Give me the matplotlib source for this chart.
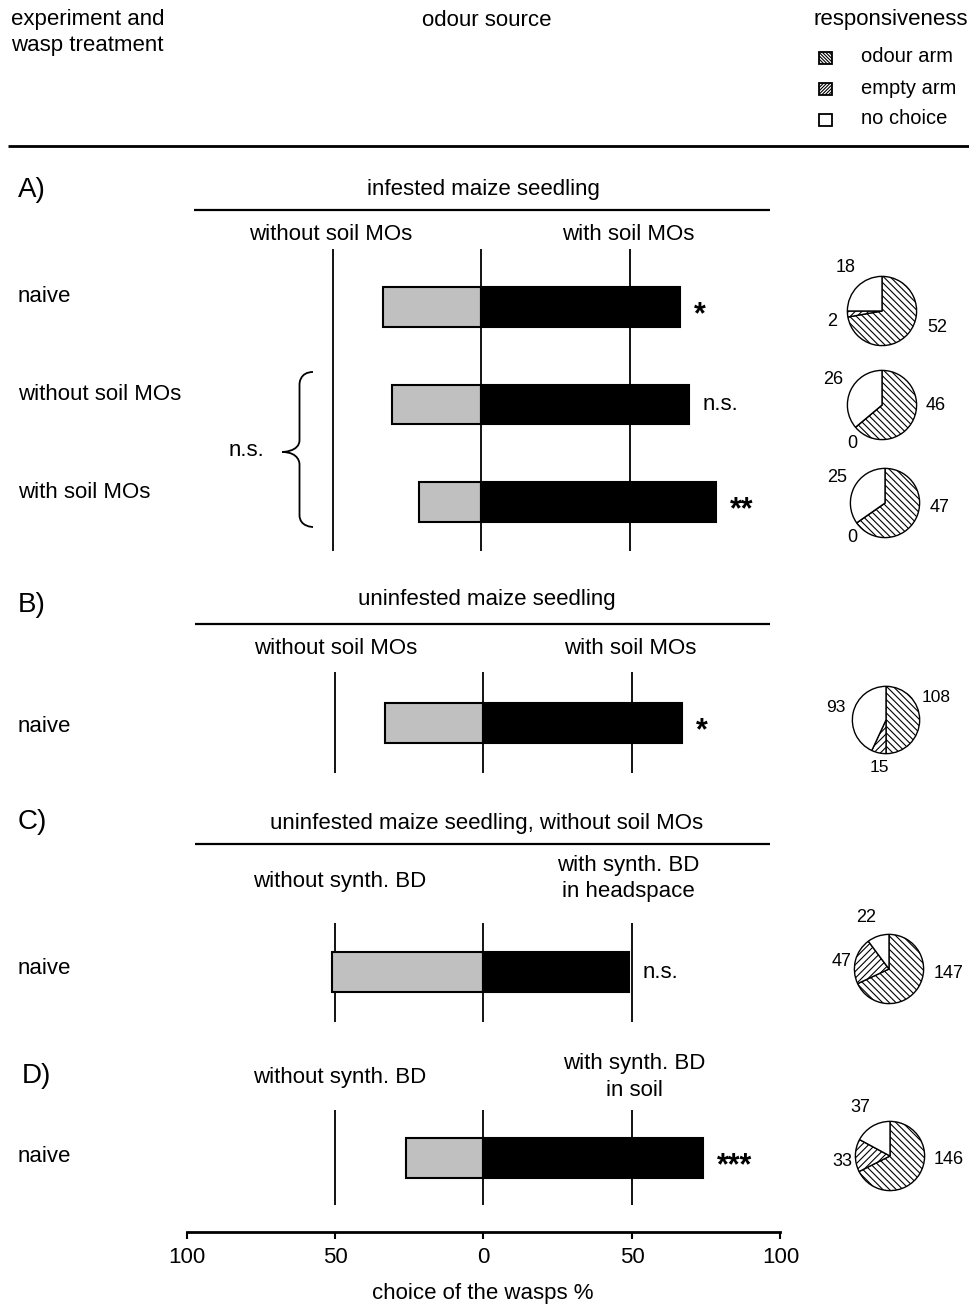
import matplotlib
matplotlib.use('Agg')
import matplotlib.pyplot as plt
from matplotlib.patches import Rectangle, PathPatch
from matplotlib.path import Path

plt.rcParams['font.family'] = ['Liberation Sans', 'DejaVu Sans']
plt.rcParams['hatch.linewidth'] = 0.8

# ---- data ----
a_rows = ['naive', 'without soil MOs', 'with soil MOs']
a_without = [33, 30, 21]     # % choosing odour without soil MOs
a_with = [67, 70, 79]        # % choosing odour with soil MOs
a_sig = ['*', 'n.s.', '**']
a_odour = [52, 46, 47]
a_empty = [2, 0, 0]
a_none = [18, 26, 25]

b_without = [33]
b_with = [67]
b_sig = ['*']
b_odour = [108]
b_empty = [15]
b_none = [93]

c_without = [51]
c_with = [49]
c_sig = ['n.s.']
c_odour = [147]
c_empty = [47]
c_none = [22]

d_without = [26]
d_with = [74]
d_sig = ['***']
d_odour = [146]
d_empty = [33]
d_none = [37]

ticks = [-100, -50, 0, 50, 100]
tick_labels = ['100', '50', '0', '50', '100']

W, H = 970, 1314
fig = plt.figure(figsize=(W / 100, H / 100), dpi=100)

# overlay in pixel coordinates for text and rules
bg = fig.add_axes([0, 0, 1, 1])
bg.set_xlim(0, W)
bg.set_ylim(H, 0)
bg.axis('off')

FS = 16
X_LEFT, X_RIGHT = 186.5, 780.5   # pixel position of -100 and +100
ROW = 97.5                       # pixels between rows
BAR_H = 0.41
HATCH_ODOUR = chr(92) * 5
HATCH_EMPTY = '/' * 5


def txt(x, y, s, size=FS, ha='left', **kw):
    bg.text(x, y, s, fontsize=size, ha=ha, va='center', **kw)


def rule(x0, x1, y, lw=1.6):
    bg.plot([x0, x1], [y, y], color='black', lw=lw, solid_capstyle='butt')


def bar_panel(top, bottom, first_row, without, with_, sig, shift=0):
    ax = fig.add_axes([(X_LEFT + shift) / W, 1 - bottom / H,
                       (X_RIGHT - X_LEFT) / W, (bottom - top) / H])
    ax.set_xlim(-100, 100)
    ax.set_ylim((bottom - first_row) / ROW, -(first_row - top) / ROW)
    ax.axis('off')
    for v in (-50, 0, 50):
        ax.axvline(v, color='black', lw=1.3, zorder=1)
    y = list(range(len(without)))
    ax.barh(y, [-v for v in without], height=BAR_H, color='#c0c0c0',
            edgecolor='black', lw=1.5, zorder=3)
    ax.barh(y, with_, height=BAR_H, color='black', edgecolor='black',
            lw=1.5, zorder=3)
    for yi, r, s in zip(y, with_, sig):
        if s == 'n.s.':
            ax.text(r + 4.5, yi, s, fontsize=FS, va='center', ha='left')
        else:
            ax.text(r + 4.5, yi + 0.08, s, fontsize=22, fontweight='bold',
                    va='center', ha='left')
    return ax


def pie_at(cx, cy, r, values, label_pos, size=13):
    ax = fig.add_axes([(cx - r) / W, 1 - (cy + r) / H, 2 * r / W, 2 * r / H])
    wedges, _ = ax.pie(values, startangle=90, counterclock=False,
                       colors=['white'] * 3,
                       wedgeprops=dict(edgecolor='black', linewidth=1.0))
    for w, h in zip(wedges, [HATCH_ODOUR, HATCH_EMPTY, '']):
        w.set_hatch(h)
    ax.set_xlim(-1.04, 1.04)
    ax.set_ylim(-1.04, 1.04)
    for v, (px, py) in zip(values, label_pos):
        txt(px, py, str(v), size=size, ha='center')
    return ax


def brace(x_end, x_tip, y_top, y_bot, y_mid):
    xm = (x_end + x_tip) / 2 + 2
    r = 12
    verts = [(x_end, y_top), (xm, y_top), (xm, y_top + r), (xm, y_top + r),
             (xm, y_mid - r),
             (xm, y_mid), (x_tip, y_mid), (x_tip, y_mid),
             (xm, y_mid), (xm, y_mid + r), (xm, y_mid + r),
             (xm, y_bot - r),
             (xm, y_bot), (x_end, y_bot), (x_end, y_bot)]
    codes = [Path.MOVETO, Path.CURVE4, Path.CURVE4, Path.CURVE4,
             Path.LINETO,
             Path.CURVE4, Path.CURVE4, Path.CURVE4,
             Path.CURVE4, Path.CURVE4, Path.CURVE4,
             Path.LINETO,
             Path.CURVE4, Path.CURVE4, Path.CURVE4]
    bg.add_patch(PathPatch(Path(verts, codes), fill=False, lw=1.3, color='black'))


# ---- header ----
txt(11, 20, 'experiment and')
txt(11, 45, 'wasp treatment')
txt(487, 20, 'odour source', ha='center')
txt(814, 20, 'responsiveness')
legend_items = [('odour arm', HATCH_ODOUR * 2), ('empty arm', HATCH_EMPTY * 2),
                ('no choice', '')]
for i, (lab, h) in enumerate(legend_items):
    yc = 58 + i * 31
    bg.add_patch(Rectangle((819, yc - 6), 13, 12, facecolor='white',
                           edgecolor='black', hatch=h, lw=1.3))
    txt(861, yc - 1, lab, size=14.5)
rule(8, 970, 146, lw=2)

# ---- panel A ----
txt(18, 190, 'A)', size=20)
txt(483, 189, 'infested maize seedling', ha='center')
rule(194, 770, 210)
txt(331, 234, 'without soil MOs', ha='center')
txt(628, 234, 'with soil MOs', ha='center')
for lab, yp in zip(a_rows, [296, 394, 493]):
    txt(18, yp, lab)
bar_panel(249, 551, 307, a_without, a_with, a_sig, shift=-2)
brace(313, 282, 372, 527, 452)
txt(246, 450, 'n.s.', ha='center')
a_centers = [(882, 311), (882, 405), (885, 503)]
# label positions in order odour, empty, no choice
a_label_pos = [[(937, 328), (832, 321), (846, 267)],
               [(936, 405), (852, 443), (833, 379)],
               [(940, 507), (852, 537), (837, 477)]]
for (cx, cy), pos, o, e, n in zip(a_centers, a_label_pos, a_odour, a_empty, a_none):
    pie_at(cx, cy, 36, [o, e, n], pos)

# ---- panel B ----
txt(18, 605, 'B)', size=20)
txt(487, 600, 'uninfested maize seedling', ha='center')
rule(195, 770, 624)
txt(336, 648, 'without soil MOs', ha='center')
txt(630, 648, 'with soil MOs', ha='center')
txt(18, 726, 'naive')
bar_panel(672, 773, 723, b_without, b_with, b_sig)
pie_at(886, 720, 35, [b_odour[0], b_empty[0], b_none[0]],
       [(936, 698), (879, 768), (836, 707)], size=12.5)

# ---- panel C ----
txt(18, 822, 'C)', size=20)
txt(487, 823, 'uninfested maize seedling, without soil MOs', ha='center')
rule(195, 770, 844)
txt(340, 882, 'without synth. BD', ha='center')
txt(628, 866, 'with synth. BD', ha='center')
txt(628, 891, 'in headspace', ha='center')
txt(18, 968, 'naive')
bar_panel(923, 1022, 972, c_without, c_with, c_sig)
pie_at(889, 969, 36, [c_odour[0], c_empty[0], c_none[0]],
       [(949, 973), (842, 962), (866, 917)])

# ---- panel D ----
txt(22, 1076, 'D)', size=20)
txt(340, 1078, 'without synth. BD', ha='center')
txt(634, 1063, 'with synth. BD', ha='center')
txt(634, 1091, 'in soil', ha='center')
txt(18, 1157, 'naive')
bar_panel(1110, 1205, 1158, d_without, d_with, d_sig)
pie_at(890, 1156, 36, [d_odour[0], d_empty[0], d_none[0]],
       [(949, 1160), (842, 1162), (860, 1108)])

# ---- bottom scale ----
axb = fig.add_axes([X_LEFT / W, 1 - 1232 / H, (X_RIGHT - X_LEFT) / W, 0.0001])
axb.set_xlim(-100, 100)
axb.set_xticks(ticks)
axb.set_xticklabels(tick_labels)
axb.set_yticks([])
for s in ('top', 'left', 'right'):
    axb.spines[s].set_visible(False)
axb.spines['bottom'].set_linewidth(2)
axb.patch.set_visible(False)
axb.tick_params(axis='x', labelsize=FS, length=5, width=1.5, pad=6)
txt(483, 1294, 'choice of the wasps %', ha='center')

fig.savefig('out.png', dpi=100)
